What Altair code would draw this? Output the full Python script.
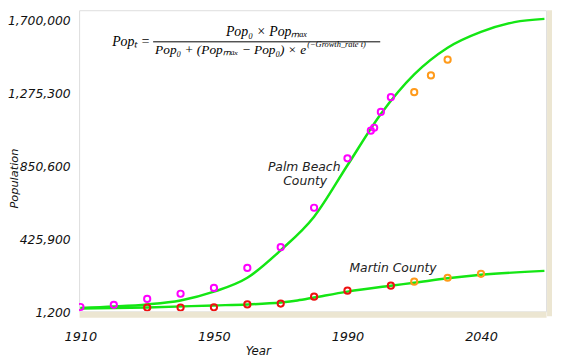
import altair as alt
import pandas as pd

# ---- data ----
pb_years = [1910, 1920, 1930, 1940, 1950, 1960, 1970, 1980, 1990, 1997, 1998, 2000, 2003]
pb_pop = [15000, 28000, 62000, 92000, 126000, 242000, 363000, 592000, 879000, 1040000, 1057000, 1149000, 1235000]
pb_proj_years = [2010, 2015, 2020]
pb_proj_pop = [1264000, 1361000, 1453000]

mc_years = [1930, 1940, 1950, 1960, 1970, 1980, 1990, 2003]
mc_pop = [12000, 12000, 13000, 30000, 35000, 75000, 110000, 139000]
mc_proj_years = [2010, 2020, 2030]
mc_proj_pop = [162000, 185000, 208000]

pb_curve_years = [1910, 1920, 1930, 1940, 1950, 1960, 1970, 1980, 1990, 2000, 2010, 2020, 2030, 2040, 2049]
pb_curve_pop = [10000, 18000, 30000, 53000, 104000, 185000, 345000, 540000, 839000, 1137000,
                1367000, 1522000, 1614000, 1671000, 1690000]
mc_curve_years = [1910, 1930, 1950, 1960, 1970, 1975, 1980, 1990, 2003, 2010, 2020, 2030, 2049]
mc_curve_pop = [6900, 12700, 24200, 29900, 41400, 52900, 70100, 104500, 139000, 156200, 182000, 202000, 225000]

x_ticks = [1910, 1950, 1990, 2030]
y_ticks = [1200, 425900, 850600, 1275300, 1700000]

W, H = 473, 305
FONT = "DejaVu Sans"

xs = alt.Scale(domain=[1909.6, 2049.5], nice=False, zero=False)
ys = alt.Scale(domain=[-10300, 1740200], nice=False, zero=False)

x_axis = alt.Axis(values=x_ticks, labelExpr="datum.value == 2030 ? '2040' : datum.value",
                  grid=False, ticks=False, labelPadding=17, labelFont=FONT, labelFontStyle="italic",
                  labelFontSize=13, labelColor="#111", domainColor="#ece6d2", domainWidth=6, offset=3,
                  title="Year", titleFont=FONT, titleFontStyle="italic", titleFontWeight="normal",
                  titleFontSize=12, titleColor="#111", titleX=181, titleY=32)
y_axis = alt.Axis(values=y_ticks, labelExpr="format(datum.value, ',')", grid=False, ticks=False,
                  labelPadding=9, labelFont=FONT, labelFontStyle="italic", labelFontSize=12.5,
                  labelColor="#111", labelOffset=3, domain=False,
                  title="Population", titleFont=FONT, titleFontStyle="italic", titleFontWeight="normal",
                  titleFontSize=11.5, titleColor="#111", titleX=-60, titleY=170)

X = alt.X("year:Q", scale=xs, axis=x_axis)
Y = alt.Y("pop:Q", scale=ys, axis=y_axis)

def curve(years, pops):
    df = pd.DataFrame({"year": years, "pop": pops})
    return alt.Chart(df).mark_line(color="#14e614", strokeWidth=2.5, interpolate="monotone", clip=True).encode(
        x=X, y=Y)

def pts(years, pops, color):
    df = pd.DataFrame({"year": years, "pop": pops})
    return alt.Chart(df).mark_point(shape="circle", filled=False, color=color, size=40,
                                    strokeWidth=2, opacity=1, clip=True).encode(x=X, y=Y)

base = alt.Chart(pd.DataFrame({"a": [0]}))
right_wall = base.mark_rect(color="#ece6d2").encode(
    x=alt.value(W + 1), x2=alt.value(W + 6), y=alt.value(0), y2=alt.value(H + 5))

def txt(s, x, y, size, align="center", font=FONT, style="italic", color="#222"):
    return base.mark_text(text=s, align=align, baseline="middle", font=font, fontStyle=style,
                          fontSize=size, color=color).encode(x=alt.value(x), y=alt.value(y))

SERIF = "Liberation Serif"
formula = [
    txt("Popₜ =", 72, 32, 14, align="right", font=SERIF, color="#000"),
    txt("Pop₀ × Popₘₐₓ", 190, 22, 14, font=SERIF, color="#000"),
    base.mark_rule(color="#000", strokeWidth=1).encode(x=alt.value(75), x2=alt.value(305), y=alt.value(32)),
    txt("Pop₀ + (Popₘₐₓ − Pop₀) × e", 77, 40, 13.5, align="left", font=SERIF, color="#000"),
    txt("(−Growth_rate t)", 231, 34, 8.5, align="left", font=SERIF, color="#000"),
]

labels = [
    txt("Palm Beach", 228, 159, 12.5),
    txt("County", 229, 173, 12.5),
    txt("Martin County", 318, 261, 12.5),
]

chart = alt.layer(
    curve(pb_curve_years, pb_curve_pop),
    curve(mc_curve_years, mc_curve_pop),
    pts(pb_years, pb_pop, "#ff00ff"),
    pts(pb_proj_years, pb_proj_pop, "#ff9a1a"),
    pts(mc_years, mc_pop, "#ee1111"),
    pts(mc_proj_years, mc_proj_pop, "#ff9a1a"),
    right_wall,
    *formula,
    *labels,
).properties(
    width=W, height=H,
    autosize=alt.AutoSizeParams(type="none"),
    padding={"left": 72, "top": 0, "right": 7, "bottom": 46},
).configure_view(stroke="#9a9a9a", strokeWidth=1.5).configure(background="white")

chart.save("out.html", embed_options={"renderer": "svg", "actions": False})
